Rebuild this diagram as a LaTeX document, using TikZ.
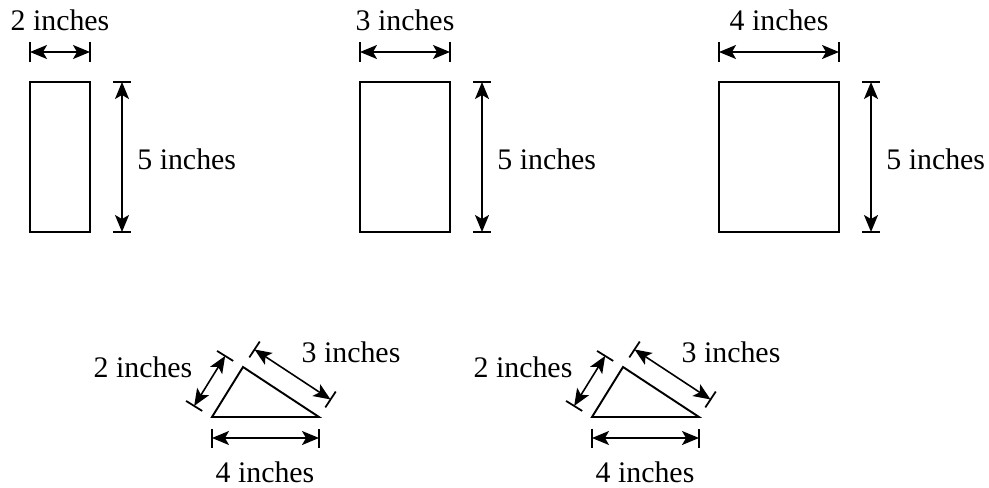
\documentclass[tikz,border=0pt]{standalone}
\usepackage{fontspec}
\setmainfont{Liberation Serif}
\usetikzlibrary{arrows.meta,calc}

\begin{document}
\begin{tikzpicture}[x=0.02cm,y=-0.02cm,
    figline/.style={black,line width=1.1pt},
    dimline/.style={black,line width=0.9pt,{Stealth[length=3.4mm,width=2.8mm,inset=0.8mm]}-{Stealth[length=3.4mm,width=2.8mm,inset=0.8mm]}},
    tickline/.style={black,line width=1pt},
    lbl/.style={font=\fontsize{17}{20}\selectfont,inner sep=0pt}]
      \useasboundingbox (0,0) rectangle (989,487);
      % rectangles, all 5 inches tall
      \foreach \xa/\xb/\w [count=\i] in {30/90/2,360/450/3,719/839/4} {
        \draw[figline] (\xa,82) rectangle (\xb,232);
        \draw[dimline] (\xa,52) -- (\xb,52);
        \draw[tickline] (\xa,42) -- (\xa,62);
        \draw[tickline] (\xb,42) -- (\xb,62);
        \node[lbl] (w\i) at ({(\xa+\xb)/2},20) {\w\ inches};
        \draw[dimline] (\xb+32,82) -- (\xb+32,232);
        \draw[tickline] (\xb+23,82) -- (\xb+41,82);
        \draw[tickline] (\xb+23,232) -- (\xb+41,232);
        \node[lbl,anchor=west] (h\i) at (\xb+47,159) {5 inches};
      }
      % triangles with sides 2, 3 and 4 inches
      \foreach \dx [count=\i] in {0,380} {
        \begin{scope}[shift={(\dx,0)}]
          \coordinate (L) at (212,417);
          \coordinate (T) at (243,367);
          \coordinate (R) at (319,417);
          \draw[figline] (L) -- (T) -- (R) -- cycle;
          \foreach \p/\q in {L/T,T/R,R/L} {
            \coordinate (\p1) at ($(\p)!0.42cm!90:(\q)$);
            \coordinate (\q2) at ($(\q)!0.42cm!-90:(\p)$);
            \draw[dimline] (\p1) -- (\q2);
            \draw[tickline] ($(\p1)!0.19cm!90:(\q2)$) -- ($(\p1)!0.19cm!-90:(\q2)$);
            \draw[tickline] ($(\q2)!0.19cm!90:(\p1)$) -- ($(\q2)!0.19cm!-90:(\p1)$);
          }
          \node[lbl] (a\i) at (143,367) {2 inches};
          \node[lbl] (b\i) at (351,352) {3 inches};
          \node[lbl] (c\i) at (265,472) {4 inches};
        \end{scope}
      }
   \end{tikzpicture}
\end{document}
